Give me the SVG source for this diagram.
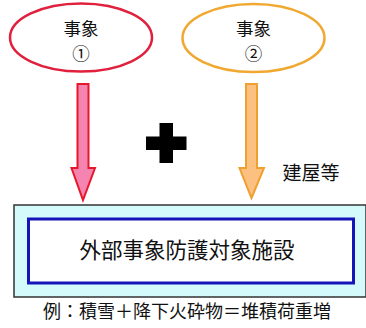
<svg xmlns="http://www.w3.org/2000/svg" width="366" height="328" viewBox="0 0 366 328">
<style>
.t{font-family:"Noto Sans CJK JP","Noto Sans CJK SC",sans-serif;fill:#111;text-anchor:middle}
</style>
<rect width="366" height="328" fill="#fff"/>
<g id="event1">
<ellipse cx="81" cy="37.5" rx="71" ry="34" fill="#fff" stroke="#e0203c" stroke-width="2.5"/>
<text class="t" x="81" y="35" font-size="17.5">事象</text>
<text class="t" x="81" y="60" font-size="17.5">①</text>
</g>
<g id="event2">
<ellipse cx="253.5" cy="38" rx="71" ry="34" fill="#fff" stroke="#f0a830" stroke-width="2.5"/>
<text class="t" x="253.5" y="35" font-size="17.5">事象</text>
<text class="t" x="253.5" y="60" font-size="17.5">②</text>
</g>
<g id="connectors">
<polygon points="77.5,84 88.5,84 88.5,168 95,168 83,200 71.5,168 77.5,168" fill="#f585b0" stroke="#e8182c" stroke-width="2" stroke-linejoin="miter"/>
<polygon points="246,84 257,84 257,168 264,168 251.5,198 239.5,168 246,168" fill="#fcc080" stroke="#f0a030" stroke-width="2"/>
</g>
<g id="plus">
<rect x="159.5" y="123" width="13.5" height="40" fill="#000"/>
<rect x="146" y="136.5" width="40.5" height="13.5" fill="#000"/>
</g>
<g id="label-building">
<text class="t" x="311" y="180" font-size="19">建屋等</text>
</g>
<g id="facility">
<rect x="14" y="205" width="352" height="92" fill="#d4fafc" stroke="#333" stroke-width="1.5"/>
<rect x="28.5" y="219" width="325" height="64" fill="#fff" stroke="#1414b8" stroke-width="3"/>
<text class="t" x="187" y="258" font-size="21.5">外部事象防護対象施設</text>
</g>
<g id="caption">
<text class="t" x="187" y="318" font-size="18">例：積雪＋降下火砕物＝堆積荷重増</text>
</g>
</svg>
